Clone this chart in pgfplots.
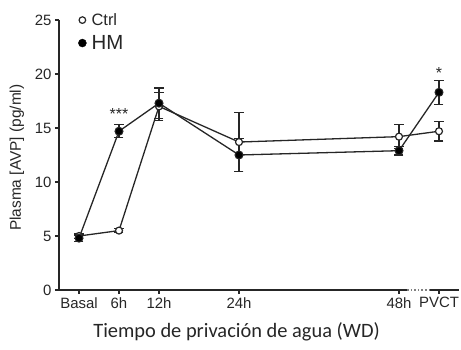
\documentclass[border=0pt]{standalone}
\usepackage{fontspec}
\setmainfont{Liberation Sans}
\newfontfamily\carlito{Carlito}
\usepackage{pgfplots}
\pgfplotsset{compat=1.18}
\definecolor{ink}{HTML}{262626}
\pgfplotstableread{
x y ey
0 4.8 0.3
6 14.7 0.6
12 17.3 1.4
24 12.5 1.5
48 12.9 0.4
54 18.3 1.1
}\hm
\pgfplotstableread{
x y ey
0 5.0 0.2
6 5.5 0.2
12 17.0 1.3
24 13.7 2.7
48 14.2 1.1
54 14.7 0.9
}\ctrl
\begin{document}
\begin{tikzpicture}
\begin{axis}[name=ax, scale only axis, width=400bp, height=270bp,
 xmin=-3, xmax=57, ymin=0, ymax=25,
 axis x line=bottom, axis y line=left,
 axis line style={-, line width=1.6bp, ink},
 x axis line style={draw=none},
 xtick={0,6,12,24,48,54}, xticklabels={Basal,6h,12h,24h,48h,PVCT},
 ytick={0,5,...,25},
 tick align=outside, major tick length=4bp,
 tick style={line width=1.2bp, ink},
 tick label style={font=\fontsize{15}{16}\selectfont, text=ink},
 /pgf/number format/assume math mode=true,
 xlabel={\carlito\fontsize{20.5}{22}\selectfont Tiempo de privación de agua (WD)},
 xlabel style={at={(axis description cs:0.444,-0.155)}, anchor=center, text=ink},
 ylabel={\fontsize{15.5}{16}\selectfont Plasma [AVP] (pg/ml)},
 ylabel style={at={(axis description cs:-0.105,0.49)}, anchor=center, text=ink},
 clip=false,
 legend style={at={(rel axis cs:0.04,1.04)}, anchor=north west, draw=none, fill=none, row sep=4.5bp, text=ink},
 legend cell align=left,
]
\draw[ink, line width=1.6bp] (axis cs:-3,0) -- (axis cs:49.2,0);
\draw[gray, line width=1.6bp, dotted] (axis cs:49.2,0) -- (axis cs:52.6,0);
\draw[ink, line width=1.6bp] (axis cs:52.6,0) -- (axis cs:57,0);
\addplot[forget plot, ink, line width=1.3bp, mark=*, mark size=3.5bp, mark options={fill=white, line width=1.2bp},
  error bars/.cd, y dir=both, y explicit,
  error bar style={line width=1.2bp, ink},
  error mark options={rotate=90, mark size=4.5bp, line width=1.2bp, ink}]
  table[x=x, y=y, y error=ey] {\ctrl};
\addplot[forget plot, ink, line width=1.3bp, mark=*, mark size=4bp, mark options={fill=black, line width=1bp},
  error bars/.cd, y dir=both, y explicit,
  error bar style={line width=1.2bp, ink},
  error mark options={rotate=90, mark size=4.5bp, line width=1.2bp, ink}]
  table[x=x, y=y, y error=ey] {\hm};
\addlegendimage{legend image code/.code={\draw[ink, line width=1.2bp, fill=white] (0.3cm,0bp) circle (3.3bp);}}
\addlegendentry{\hspace{3bp}\fontsize{16.5}{17}\selectfont Ctrl}
\addlegendimage{legend image code/.code={\draw[black, fill=black] (0.3cm,0bp) circle (4bp);}}
\addlegendentry{\hspace{3bp}\fontsize{20.5}{21}\selectfont HM}
\node[anchor=base, font=\fontsize{16}{16}\selectfont, text=ink] at (axis cs:6,15.8) {***};
\node[anchor=base, font=\fontsize{16}{16}\selectfont, text=ink] at (axis cs:54,19.6) {*};
\end{axis}
\pgfresetboundingbox
\path[use as bounding box] ([shift={(-59bp,-60bp)}]ax.south west) rectangle ([shift={(402bp,290bp)}]ax.south west);
\end{tikzpicture}
\end{document}
